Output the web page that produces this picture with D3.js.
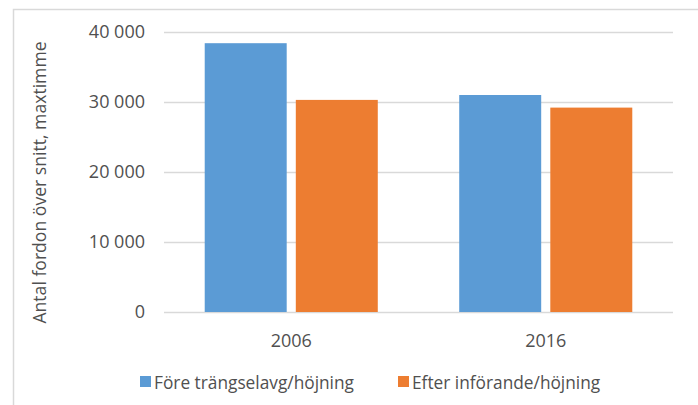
<!DOCTYPE html>
<html><head><meta charset="utf-8">
<script src="https://cdn.jsdelivr.net/npm/d3@7"></script>
<style>body{margin:0;background:#fff}svg{display:block}text{font-family:"Open Sans",sans-serif;fill:#505050}</style>
</head><body><svg id="c" width="698" height="405"></svg>
<script>
const categories = ["2006", "2016"];
const seriesNames = ["Före trängselavg/höjning", "Efter införande/höjning"];
const before = [38400, 31000];
const after = [30300, 29200];
const yTicks = [0, 10000, 20000, 30000, 40000];
const colors = ["#5B9BD5", "#ED7D31"];
const yTitle = "Antal fordon över snitt, maxtimme";

const svg = d3.select("#c");
const W = 698, H = 405;
const m = {left: 164, right: 25, top: 32, bottom: 93};
const plotR = W - m.right, plotB = H - m.bottom;
const FONT = '"Open Sans",sans-serif';

// outer border (left and top visible)
svg.append("path").attr("d", `M13.5,${H} V9.5 H${W}`).attr("fill", "none").attr("stroke", "#D9D9D9").attr("stroke-width", 1.5);

const y = d3.scaleLinear().domain([0, 40000]).range([plotB, m.top]);
const x0 = d3.scaleBand().domain(categories).range([m.left, plotR]).paddingInner(0.32).paddingOuter(0.16);
const x1 = d3.scaleBand().domain(seriesNames).range([0, x0.bandwidth()]).paddingInner(0.1);

// gridlines
svg.append("g").selectAll("line").data(yTicks).join("line")
  .attr("x1", m.left).attr("x2", plotR)
  .attr("y1", d => Math.round(y(d)) + 0.5).attr("y2", d => Math.round(y(d)) + 0.5)
  .attr("stroke", "#D9D9D9").attr("stroke-width", 1.3);

// y axis labels
const yAxis = d3.axisLeft(y).tickValues(yTicks).tickSize(0).tickPadding(0).tickFormat(d => d === 0 ? "0" : d3.format(",")(d).replace(",", " "));
const ya = svg.append("g").attr("transform", `translate(${m.left - 19},0)`).call(yAxis);
ya.select(".domain").remove();
ya.selectAll("text").attr("font-size", 18).attr("fill", "#505050").style("font-family", FONT);

// bars
const rows = categories.map((c, i) => ({cat: c, vals: [before[i], after[i]]}));
const g = svg.append("g").selectAll("g").data(rows).join("g").attr("transform", d => `translate(${x0(d.cat)},0)`);
g.selectAll("rect").data(d => d.vals.map((v, j) => ({v, s: seriesNames[j], j}))).join("rect")
  .attr("x", d => x1(d.s)).attr("width", x1.bandwidth())
  .attr("y", d => y(d.v)).attr("height", d => plotB - y(d.v))
  .attr("fill", d => colors[d.j]);

// x axis labels
const xAxis = d3.axisBottom(x0).tickSize(0).tickPadding(0);
const xa = svg.append("g").attr("transform", `translate(0,${plotB})`).call(xAxis);
xa.select(".domain").remove();
xa.selectAll("text").attr("font-size", 18).attr("fill", "#505050").attr("dy", null).attr("y", 35).style("font-family", FONT);

// y title
svg.append("text").attr("transform", `translate(46,${(37 + 328) / 2}) rotate(-90)`)
  .attr("text-anchor", "middle").attr("font-size", 17.6).text(yTitle);

// legend
const legX = [140, 398];
const lg = svg.append("g").selectAll("g").data(seriesNames).join("g").attr("transform", (d, i) => `translate(${legX[i]},376)`);
lg.append("rect").attr("width", 11).attr("height", 11).attr("fill", (d, i) => colors[i]);
lg.append("text").attr("x", 14).attr("y", 12.5).attr("font-size", 17.3).text(d => d);
</script></body></html>
